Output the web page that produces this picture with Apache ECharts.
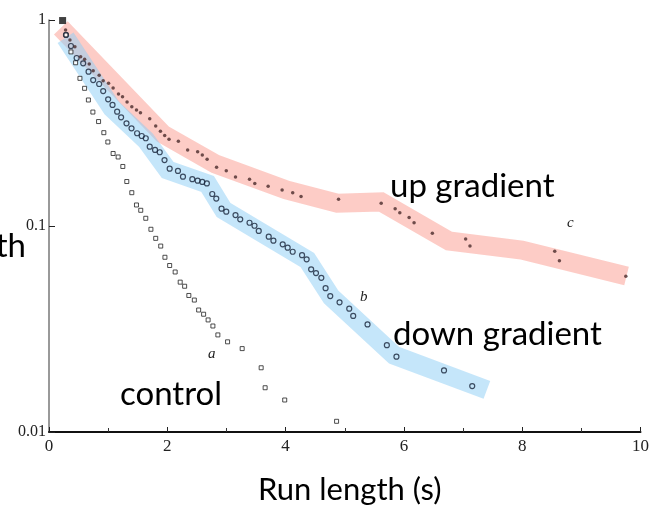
<!DOCTYPE html>
<html>
<head>
<meta charset="utf-8">
<script src="https://cdn.jsdelivr.net/npm/echarts@6/dist/echarts.min.js"></script>
<style>
  html, body { margin: 0; padding: 0; background: #fff; }
  #chart { width: 652px; height: 508px; }
</style>
</head>
<body>
<div id="chart"></div>
<script>
// run length (s) and fraction of runs
var startPoint = [[0.23, 0.994]];

var upX = [0.28, 0.354, 0.438, 0.535, 0.602, 0.68, 0.747, 0.848, 0.916, 1.007, 1.084, 1.175, 1.243, 1.32, 1.4, 1.479, 1.546, 1.703, 1.804, 1.884, 1.956, 2.029, 2.187, 2.344, 2.513, 2.592, 2.673, 2.833, 2.997, 3.153, 3.39, 3.479, 3.705, 3.941, 4.12, 4.261, 4.895, 5.616, 5.852, 5.931, 6.088, 6.172, 6.481, 7.044, 7.117, 8.55, 8.629, 9.752];
var upY = [0.894, 0.8, 0.742, 0.664, 0.644, 0.611, 0.567, 0.539, 0.507, 0.493, 0.468, 0.437, 0.424, 0.4, 0.379, 0.366, 0.355, 0.332, 0.306, 0.288, 0.275, 0.264, 0.258, 0.234, 0.229, 0.221, 0.211, 0.193, 0.1855, 0.173, 0.1685, 0.161, 0.156, 0.1496, 0.145, 0.139, 0.1349, 0.1289, 0.1213, 0.116, 0.11, 0.1037, 0.0922, 0.0865, 0.08, 0.0754, 0.0678, 0.0571];

var downX = [0.287, 0.371, 0.467, 0.578, 0.669, 0.747, 0.848, 0.916, 1.0, 1.074, 1.152, 1.219, 1.31, 1.395, 1.489, 1.568, 1.636, 1.703, 1.793, 1.872, 1.953, 2.04, 2.18, 2.265, 2.423, 2.513, 2.592, 2.669, 2.76, 2.828, 2.917, 2.997, 3.153, 3.233, 3.39, 3.474, 3.546, 3.715, 3.794, 3.951, 4.035, 4.12, 4.278, 4.356, 4.432, 4.514, 4.604, 4.676, 4.755, 4.912, 5.076, 5.143, 5.385, 5.712, 5.874, 6.678, 7.155];
var downY = [0.846, 0.748, 0.654, 0.616, 0.561, 0.511, 0.489, 0.452, 0.412, 0.387, 0.359, 0.337, 0.315, 0.298, 0.282, 0.2735, 0.2666, 0.2427, 0.234, 0.228, 0.209, 0.1897, 0.185, 0.1735, 0.1687, 0.166, 0.1636, 0.161, 0.143, 0.1358, 0.1213, 0.1173, 0.113, 0.1077, 0.1037, 0.1003, 0.0946, 0.0888, 0.0849, 0.0815, 0.0785, 0.075, 0.0722, 0.0689, 0.0616, 0.0591, 0.056, 0.0499, 0.0457, 0.0426, 0.0397, 0.0366, 0.0333, 0.0264, 0.0232, 0.0199, 0.0167];

var controlX = [0.287, 0.371, 0.45, 0.523, 0.602, 0.666, 0.742, 0.838, 0.927, 0.995, 1.084, 1.169, 1.248, 1.315, 1.4, 1.479, 1.551, 1.636, 1.723, 1.804, 1.889, 1.96, 2.04, 2.133, 2.218, 2.293, 2.364, 2.457, 2.53, 2.614, 2.69, 2.771, 2.855, 3.019, 3.266, 3.587, 3.654, 3.985, 4.862];
var controlY = [0.846, 0.7, 0.62, 0.521, 0.466, 0.409, 0.3574, 0.3214, 0.2838, 0.2557, 0.2249, 0.2163, 0.1945, 0.1644, 0.1451, 0.1265, 0.1192, 0.109, 0.0964, 0.0871, 0.0799, 0.0705, 0.0643, 0.0598, 0.0534, 0.051, 0.046, 0.0437, 0.0391, 0.0373, 0.035, 0.0327, 0.0296, 0.0274, 0.0254, 0.0205, 0.0164, 0.0143, 0.01127];

// hand drawn bands behind the points
var upBandX = [0.2, 1.922, 2.816, 4.013, 4.874, 5.616, 6.762, 7.993, 9.764];
var upBandY = [0.915, 0.28, 0.2, 0.1496, 0.129, 0.1309, 0.0846, 0.0764, 0.0572];
var downBandX = [0.28, 1.062, 1.636, 2.007, 2.681, 2.951, 4.368, 4.772, 5.835, 7.403];
var downBandY = [0.82, 0.374, 0.2616, 0.187, 0.16, 0.1196, 0.0684, 0.0452, 0.0236, 0.016];

var xTicks = [0, 2, 4, 6, 8, 10];
var yTickLabels = {1: '1', 0.1: '0.1', 0.01: '0.01'};

function pairs(xs, ys) {
  return xs.map(function (x, i) { return [x, ys[i]]; });
}

var chart = echarts.init(document.getElementById('chart'));
var labelFont = 'Lato, "Open Sans", sans-serif';
var serif = '"Liberation Serif", "DejaVu Serif", serif';

var option = {
  animation: false,
  backgroundColor: '#fff',
  grid: { left: 49, right: 10, top: 20, bottom: 76 },
  xAxis: {
    type: 'value',
    min: 0,
    max: 10,
    interval: 2,
    splitLine: { show: false },
    axisLine: { onZero: false, lineStyle: { color: '#111', width: 2 } },
    axisTick: { inside: true, length: 5, lineStyle: { color: '#222' } },
    minorTick: { show: true, splitNumber: 2, length: 4, lineStyle: { color: '#333' } },
    axisLabel: {
      margin: 6,
      color: '#222',
      fontFamily: serif,
      fontSize: 17,
      formatter: function (v) { return xTicks.indexOf(v) >= 0 ? String(v) : ''; }
    }
  },
  yAxis: {
    type: 'log',
    logBase: 10,
    min: 0.01,
    max: 1,
    splitLine: { show: false },
    axisLine: { lineStyle: { color: '#777', width: 1.5 } },
    axisTick: { inside: true, length: 6, lineStyle: { color: '#222' } },
    axisLabel: {
      margin: 3,
      color: '#222',
      fontFamily: serif,
      fontSize: 16,
      formatter: function (v) {
        var k = Number(v.toPrecision(3));
        return yTickLabels[k] || '';
      }
    }
  },
  series: [
    {
      name: 'up band',
      type: 'line',
      data: pairs(upBandX, upBandY),
      showSymbol: false,
      symbol: 'none',
      lineStyle: { color: 'rgba(252,170,160,0.6)', width: 19, cap: 'butt', join: 'miter' },
      z: 1
    },
    {
      name: 'down band',
      type: 'line',
      data: pairs(downBandX, downBandY),
      showSymbol: false,
      symbol: 'none',
      lineStyle: { color: 'rgba(140,205,245,0.5)', width: 19, cap: 'butt', join: 'miter' },
      z: 2
    },
    {
      name: 'control',
      type: 'scatter',
      data: pairs(controlX, controlY),
      symbol: 'rect',
      symbolSize: 4,
      itemStyle: { color: '#fff', borderColor: '#222', borderWidth: 1 },
      z: 5
    },
    {
      name: 'down gradient',
      type: 'scatter',
      data: pairs(downX, downY),
      symbol: 'circle',
      symbolSize: 5,
      itemStyle: { color: 'rgba(255,255,255,0)', borderColor: '#18243a', borderWidth: 1.2 },
      z: 5
    },
    {
      name: 'up gradient',
      type: 'scatter',
      data: pairs(upX, upY),
      symbol: 'circle',
      symbolSize: 3.5,
      itemStyle: { color: '#4a2a2a' },
      z: 6
    },
    {
      name: 'start',
      type: 'scatter',
      data: startPoint,
      symbol: 'rect',
      symbolSize: 7,
      itemStyle: { color: '#111' },
      z: 6
    }
  ],
  graphic: [
    { type: 'text', left: 258, top: 474, style: { text: 'Run length (s)', font: '31px ' + labelFont, fill: '#000' } },
    { type: 'text', right: 626, top: 230, style: { text: 'th', font: '33px ' + labelFont, fill: '#000' } },
    { type: 'text', left: 390, top: 170, style: { text: 'up gradient', font: '33px ' + labelFont, fill: '#000' } },
    { type: 'text', left: 393, top: 318, style: { text: 'down gradient', font: '33px ' + labelFont, fill: '#000' } },
    { type: 'text', left: 120, top: 378, style: { text: 'control', font: '33px ' + labelFont, fill: '#000' } },
    { type: 'text', left: 208, top: 347, style: { text: 'a', font: 'italic 15px ' + serif, fill: '#222' } },
    { type: 'text', left: 360, top: 290, style: { text: 'b', font: 'italic 15px ' + serif, fill: '#222' } },
    { type: 'text', left: 567, top: 216, style: { text: 'c', font: 'italic 15px ' + serif, fill: '#222' } }
  ]
};

chart.setOption(option);
</script>
</body>
</html>
